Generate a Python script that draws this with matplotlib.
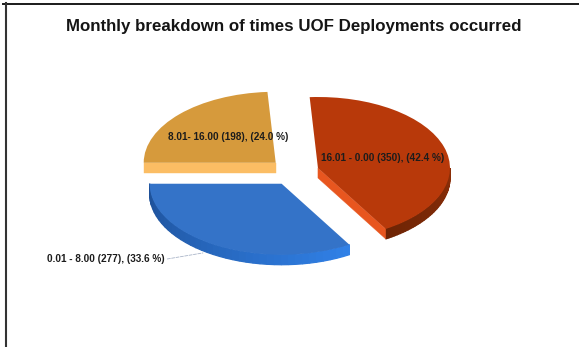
#!/usr/bin/env python3
import numpy as np
import matplotlib
matplotlib.use("Agg")
import matplotlib.pyplot as plt
from matplotlib.colors import to_rgb
from matplotlib.lines import Line2D
from matplotlib.patches import Polygon

TITLE = "Monthly breakdown of times UOF Deployments occurred"

# Data
categories = ["8.01- 16.00", "16.01 - 0.00", "0.01 - 8.00"]
counts = [198, 350, 277]
percents = [24.0, 42.4, 33.6]

# Colours per slice: top, cut face, rim at the left, rim at the right
top_colors = ["#d69a3c", "#b8390a", "#3473c8"]
face_colors = ["#fbbd64", "#e8561f", "#2f78dc"]
rim_left = ["#a87428", "#6e2405", "#1d4f96"]
rim_right = ["#a87428", "#8a2e08", "#3080e6"]

W, H = 579, 347
CX, CY = 294, 172      # pie centre, px from top left
RX, RY = 132, 71       # px per data unit
SPAN = 1.5
DEPTH = 10 / RY        # thickness of the pie in data units
EXPLODE = 0.19

plt.rcParams["font.family"] = ["Liberation Sans", "DejaVu Sans"]

fig = plt.figure(figsize=(W / 100, H / 100), dpi=100, facecolor="white")
ax = fig.add_axes([(CX - SPAN * RX) / W, 1 - (CY + SPAN * RY) / H,
                   2 * SPAN * RX / W, 2 * SPAN * RY / H])

wedges, _ = ax.pie(counts, colors=top_colors, startangle=180, counterclock=False,
                   explode=[EXPLODE] * len(counts), radius=1,
                   wedgeprops={"linewidth": 0})
ax.set_aspect("auto")
ax.set_xlim(-SPAN, SPAN)
ax.set_ylim(-SPAN, SPAN)


def draw_sides(wedge, face, left, right):
    """Rim and visible cut face under one slice."""
    cx, cy = wedge.center
    t1, t2 = wedge.theta1, wedge.theta2
    # rim: only the part of the arc that faces the viewer
    a1, a2 = max(t1, -180), min(t2, 0)
    if a2 > a1:
        angles = np.radians(np.linspace(a1, a2, 40))
        c1, c2 = np.array(to_rgb(left)), np.array(to_rgb(right))
        for i in range(len(angles) - 1):
            x = cx + np.cos(angles[i:i + 2])
            y = cy + np.sin(angles[i:i + 2])
            shade = c1 + (c2 - c1) * i / (len(angles) - 2)
            ax.add_patch(Polygon(
                [(x[0], y[0]), (x[1], y[1]), (x[1], y[1] - DEPTH), (x[0], y[0] - DEPTH)],
                facecolor=shade, edgecolor=shade, linewidth=0.9, zorder=0.5))
    # cut faces are seen only when the edge runs downward from the apex
    for theta, seen in ((t1, -90 < t1 < 0), (t2, t2 == 180)):
        if seen:
            ex, ey = cx + np.cos(np.radians(theta)), cy + np.sin(np.radians(theta))
            ax.add_patch(Polygon(
                [(cx, cy), (ex, ey), (ex, ey - DEPTH), (cx, cy - DEPTH)],
                facecolor=face, edgecolor=face, linewidth=0.3, zorder=0.6))


for i, w in enumerate(wedges):
    draw_sides(w, face_colors[i], rim_left[i], rim_right[i])

labels = [f"{c} ({n}), ({p} %)" for c, n, p in zip(categories, counts, percents)]
text_style = {"fontsize": 7.2, "fontweight": "bold", "color": "#1c1c1c", "zorder": 5,
              "clip_on": False}
ax.text(-0.496, 0.493, labels[0], ha="center", va="center", **text_style)
ax.text(0.67, 0.197, labels[1], ha="center", va="center", **text_style)
ax.text(-1.871, -1.225, labels[2], ha="left", va="center", **text_style)
ax.annotate("", xy=(-0.69, -1.14), xytext=(-0.96, -1.225), annotation_clip=False,
            arrowprops={"arrowstyle": "-", "linestyle": "--", "linewidth": 0.6,
                        "color": "#a9b4c8", "shrinkA": 0, "shrinkB": 0})

fig.text(294 / W, 1 - 27 / H, TITLE, ha="center", va="center", fontsize=12.2,
         fontweight="bold", color="#151515")

# Frame of the original screenshot
fig.add_artist(Line2D([3 / W, 1], [1 - 3.5 / H] * 2, color="#1a1a1a", linewidth=1.4))
fig.add_artist(Line2D([5.5 / W] * 2, [0, 1 - 3 / H], color="#333333", linewidth=1.5))

fig.savefig("out.png", dpi=100, facecolor="white")
